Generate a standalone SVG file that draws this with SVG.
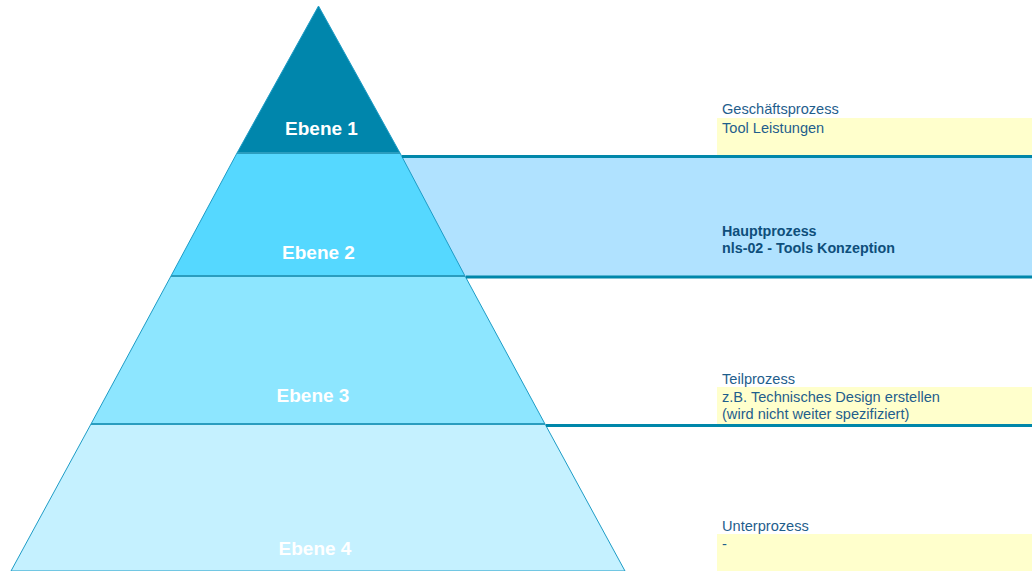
<svg xmlns="http://www.w3.org/2000/svg" width="1032" height="571" viewBox="0 0 1032 571">
<style>
.lvl{stroke:#1E9CC6;stroke-width:1}
.sep{stroke:#2A9DBF;stroke-width:2}
.rule{stroke:#0087AA;stroke-width:3}
.note{fill:#FFFFCC}
.lab{font-family:"Liberation Sans",Arial,sans-serif;font-size:19px;font-weight:bold;fill:#FFFFFF;text-anchor:middle}
.txt{font-family:"Liberation Sans",Arial,sans-serif;font-size:14.6px;fill:#1F5E8C}
.bold{font-weight:bold;fill:#0E4F7B;font-size:14.3px}
</style>
<rect width="1032" height="571" fill="#FFFFFF"/>
<g id="band-hauptprozess">
<rect x="400" y="156" width="632" height="121" fill="#B0E2FF"/>
</g>
<g id="notes">
<rect class="note" x="717" y="118" width="315" height="37"/>
<rect class="note" x="717" y="387" width="315" height="37"/>
<rect class="note" x="717" y="534" width="315" height="37"/>
</g>
<g id="ebene4">
<polygon class="lvl" points="91,424 545,424 625,571 11,571" fill="#C5F1FF"/>
<text class="lab" x="315" y="555">Ebene 4</text>
</g>
<g id="ebene3">
<polygon class="lvl" points="171,276 465,276 545,424 91,424" fill="#8DE6FF"/>
<text class="lab" x="313" y="402">Ebene 3</text>
</g>
<g id="ebene2">
<polygon class="lvl" points="237,153 400,153 465,276 171,276" fill="#55D8FF"/>
<text class="lab" x="318.5" y="259">Ebene 2</text>
</g>
<g id="ebene1">
<polygon class="lvl" points="318.5,6 400,153 237,153" fill="#0086AC"/>
<text class="lab" x="321.5" y="135">Ebene 1</text>
</g>
<g id="connectors">
<line class="sep" x1="237" y1="153" x2="400" y2="153"/>
<line class="sep" x1="171" y1="276" x2="465" y2="276"/>
<line class="sep" x1="91" y1="424" x2="545" y2="424"/>
<line class="rule" x1="402" y1="156.5" x2="1032" y2="156.5"/>
<line class="rule" x1="466" y1="277" x2="1032" y2="277"/>
<line class="rule" x1="546" y1="425.5" x2="1032" y2="425.5"/>
</g>
<g id="texts">
<text class="txt" x="722" y="114">Geschäftsprozess</text>
<text class="txt" x="722" y="133">Tool Leistungen</text>
<text class="txt bold" x="722" y="236">Hauptprozess</text>
<text class="txt bold" x="722" y="253">nls-02 - Tools Konzeption</text>
<text class="txt" x="722" y="384">Teilprozess</text>
<text class="txt" x="722" y="402">z.B. Technisches Design erstellen</text>
<text class="txt" x="722" y="419">(wird nicht weiter spezifiziert)</text>
<text class="txt" x="722" y="531">Unterprozess</text>
<text class="txt" x="722" y="549">-</text>
</g>
</svg>
